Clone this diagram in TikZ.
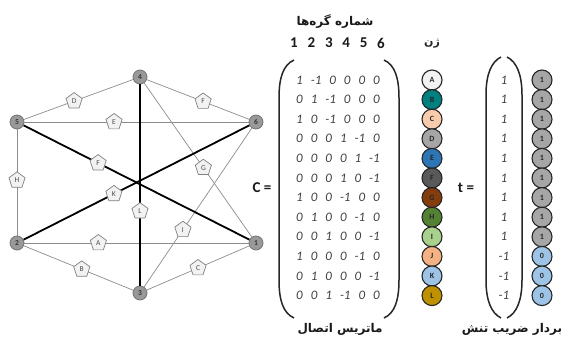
\documentclass[tikz,border=0pt]{standalone}
\usepackage{fontspec}
\setmainfont{Carlito}
\newfontfamily\fa[Script=Arabic]{DejaVu Sans}
\TeXXeTstate=1
\usetikzlibrary{shapes.geometric}
\definecolor{gA}{HTML}{F2F2F2}
\definecolor{gB}{HTML}{00807F}
\definecolor{gC}{HTML}{F8CBAD}
\definecolor{gD}{HTML}{A6A6A6}
\definecolor{gE}{HTML}{2E75B6}
\definecolor{gF}{HTML}{595959}
\definecolor{gG}{HTML}{843C0C}
\definecolor{gH}{HTML}{548235}
\definecolor{gI}{HTML}{A9D18E}
\definecolor{gJ}{HTML}{F4B183}
\definecolor{gK}{HTML}{9DC3E6}
\definecolor{gL}{HTML}{BF9000}
\newcommand\widesp[1]{\spaceskip=8pt\relax #1}
\begin{document}
\begin{tikzpicture}[x=1pt,y=-1pt,
  gnode/.style={circle, fill=black!40, draw=black!55, line width=0.8pt, minimum size=14pt, inner sep=0pt, font=\bfseries\fontsize{7.5}{7.5}\selectfont, text=black!80},
  thinedge/.style={draw=black!45, line width=0.7pt},
  thickedge/.style={draw=black, line width=1.8pt},
  pent/.style={regular polygon, regular polygon sides=5, draw=black!50, line width=0.7pt, fill=black!5, minimum size=17pt, inner sep=0pt, font=\fontsize{7.5}{7.5}\selectfont, text=black!70},
  gene/.style={circle, draw=black!85, line width=1.1pt, minimum size=20pt, inner sep=0pt, font=\bfseries\fontsize{8}{8}\selectfont, text=black!85},
  mrow/.style={font=\itshape\fontsize{13}{13}\selectfont, text=black!75, inner sep=0pt},
  paren/.style={draw=black!85, line width=1.5pt},
  fatitle/.style={font=\fa\bfseries\fontsize{12}{12}\selectfont, text=black!90},
  eqlab/.style={font=\bfseries\fontsize{15}{15}\selectfont, text=black!90}
]
\useasboundingbox (0,0) rectangle (568,343);
% graph nodes
\node[gnode] (n4) at (140,77) {4};
\node[gnode] (n5) at (17,122) {5};
\node[gnode] (n6) at (256,122) {6};
\node[gnode] (n2) at (17,243) {2};
\node[gnode] (n1) at (256,243) {1};
\node[gnode] (n3) at (140,293) {3};
% thin edges
\draw[thinedge] (n5) -- node[pent, pos=0.46] {D} (n4);
\draw[thinedge] (n4) -- node[pent, pos=0.55] {F} (n6);
\draw[thinedge] (n5) -- node[pent, pos=0.40] {E} (n6);
\draw[thinedge] (n5) -- node[pent, pos=0.48] {H} (n2);
\draw[thinedge] (n2) -- node[pent, pos=0.33] {A} (n1);
\draw[thinedge] (n2) -- node[pent, pos=0.53] {B} (n3);
\draw[thinedge] (n3) -- node[pent, pos=0.50] {C} (n1);
\draw[thinedge] (n4) -- node[pent, pos=0.55] {G} (n1);
\draw[thinedge] (n3) -- node[pent, pos=0.36] {I} (n6);
% thick edges
\draw[thickedge] (n5) -- node[pent, pos=0.33] {F} (n1);
\draw[thickedge] (n2) -- node[pent, pos=0.40] {K} (n6);
\draw[thickedge] (n4) -- node[pent, pos=0.63] {L} (n3);
% C =
\node[eqlab] (ceq) at (262,188) {C =};
% header
\node[fatitle] (hdr) at (335,22) {\beginR شماره گره‌ها\endR};
\foreach \d [count=\k] in {1,...,6}
  \node[font=\bfseries\fontsize{15}{15}\selectfont, text=black!90] (h\k) at ({294+17.4*(\k-1)},43) {\d};
% matrix parens
\draw[paren] (294,60) .. controls (283,65) and (279,78) .. (279,98) -- (279,280) .. controls (279,300) and (283,313) .. (294,318);
\draw[paren] (384,60) .. controls (395,65) and (399,78) .. (399,98) -- (399,280) .. controls (399,300) and (395,313) .. (384,318);
% matrix rows
\foreach \r [count=\i] in {{1 -1 0 0 0 0},{0 1 -1 0 0 0},{1 0 -1 0 0 0},{0 0 0 1 -1 0},{0 0 0 0 1 -1},{0 0 0 1 0 -1},{1 0 0 -1 0 0},{0 1 0 0 -1 0},{0 0 1 0 0 -1},{1 0 0 0 -1 0},{0 1 0 0 0 -1},{0 0 1 -1 0 0}}
  \node[mrow] (m\i) at (338,{80+19.6*(\i-1)}) {\widesp{\r}};
\node[fatitle] (mt) at (340,329) {\beginR ماتریس اتصال\endR};
% genes
\node[font=\fa\bfseries\fontsize{11}{11}\selectfont, text=black!85] (zn) at (432,44) {\beginR ژن\endR};
\foreach \g/\c [count=\i] in {A/gA,B/gB,C/gC,D/gD,E/gE,F/gF,G/gG,H/gH,I/gI,J/gJ,K/gK,L/gL}
  \node[gene, fill=\c] (ge\i) at (432,{80+19.6*(\i-1)}) {\g};
% t vector
\node[eqlab] (teq) at (466,188) {t =};
\draw[paren] (501,57) .. controls (491,62) and (486,75) .. (486,95) -- (486,280) .. controls (486,300) and (491,313) .. (501,318);
\draw[paren] (507,57) .. controls (517,62) and (522,75) .. (522,95) -- (522,280) .. controls (522,300) and (517,313) .. (507,318);
\foreach \v [count=\i] in {1,1,1,1,1,1,1,1,1,-1,-1,-1}
  \node[mrow] (t\i) at (504,{80+19.6*(\i-1)}) {\v};
\foreach \v/\c [count=\i] in {1/gD,1/gD,1/gD,1/gD,1/gD,1/gD,1/gD,1/gD,1/gD,0/gK,0/gK,0/gK}
  \node[gene, fill=\c] (s\i) at (542,{80+19.6*(\i-1)}) {\v};
\node[fatitle] (tt) at (512,329) {\beginR بردار ضریب تنش\endR};
\end{tikzpicture}
\end{document}
